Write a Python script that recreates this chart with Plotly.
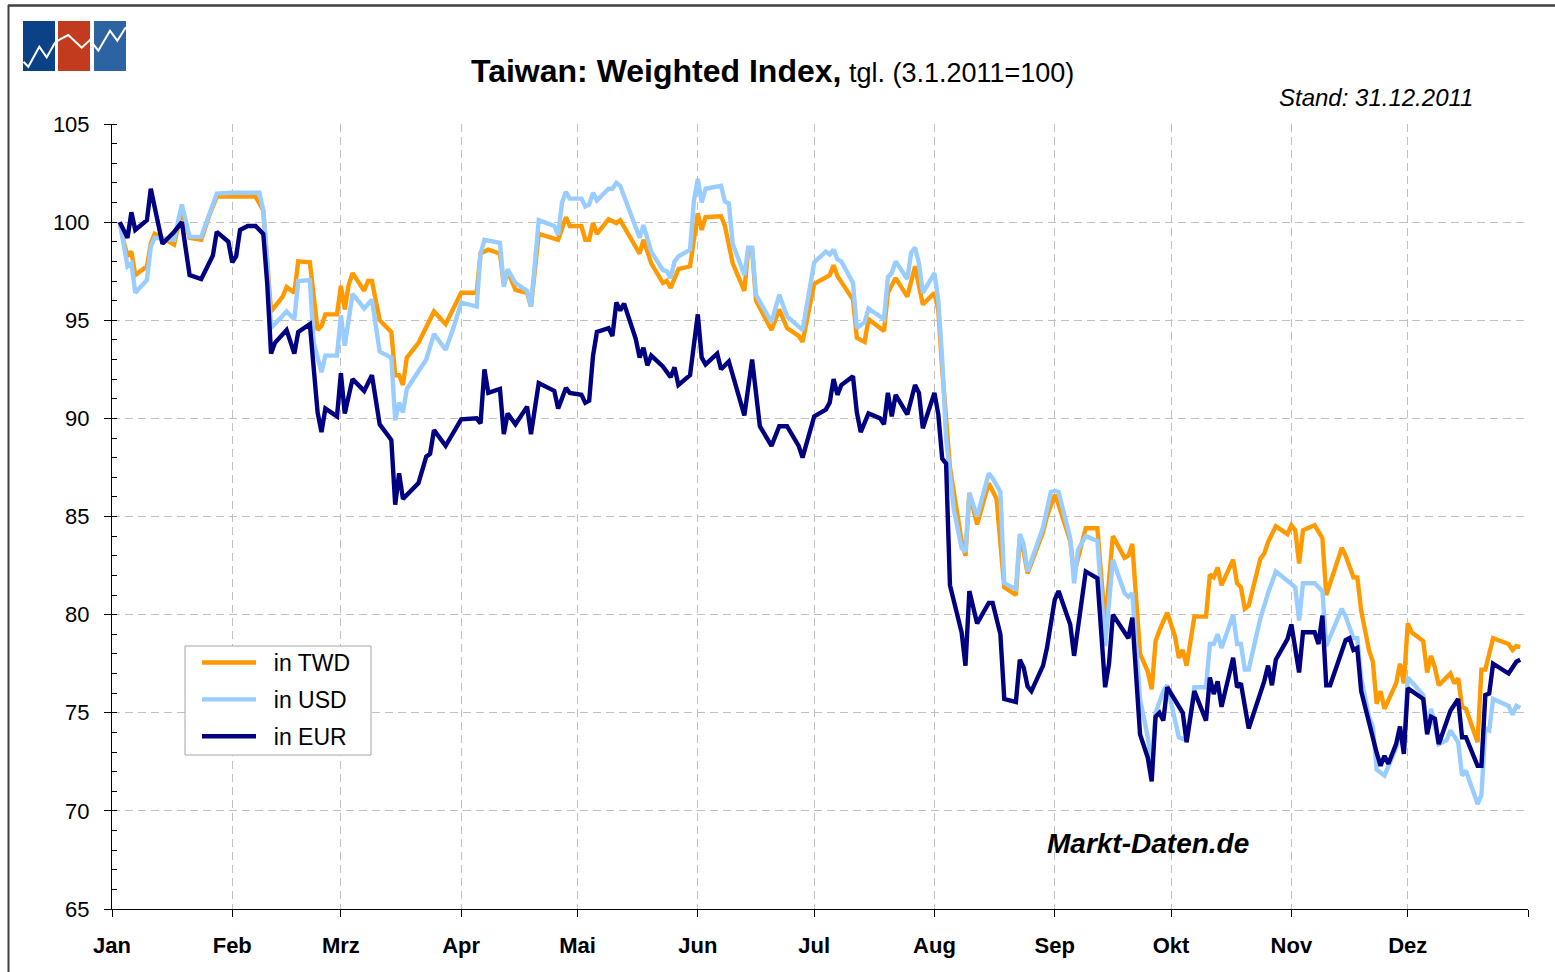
import plotly.graph_objects as go

# ---------------- data ----------------
twd_dates = [
    "2011-01-03","2011-01-04","2011-01-05","2011-01-06","2011-01-07","2011-01-10","2011-01-11","2011-01-12","2011-01-14","2011-01-17",
    "2011-01-19","2011-01-21","2011-01-24","2011-01-26","2011-01-28","2011-02-07","2011-02-09","2011-02-10","2011-02-11","2011-02-14",
    "2011-02-15","2011-02-17","2011-02-18","2011-02-21","2011-02-23","2011-02-24","2011-02-25","2011-02-28","2011-03-01","2011-03-02",
    "2011-03-03","2011-03-04","2011-03-07","2011-03-08","2011-03-09","2011-03-11","2011-03-14","2011-03-15","2011-03-16","2011-03-17",
    "2011-03-18","2011-03-21","2011-03-25","2011-03-28","2011-04-01","2011-04-05","2011-04-06","2011-04-08","2011-04-11","2011-04-12",
    "2011-04-13","2011-04-15","2011-04-18","2011-04-19","2011-04-21","2011-04-26","2011-04-28","2011-04-29","2011-05-02","2011-05-03",
    "2011-05-04","2011-05-05","2011-05-06","2011-05-09","2011-05-11","2011-05-12","2011-05-17","2011-05-18","2011-05-20","2011-05-23",
    "2011-05-24","2011-05-25","2011-05-27","2011-05-30","2011-06-01","2011-06-02","2011-06-03","2011-06-07","2011-06-08","2011-06-10",
    "2011-06-13","2011-06-14","2011-06-15","2011-06-16","2011-06-20","2011-06-22","2011-06-24","2011-06-27","2011-06-28","2011-07-01",
    "2011-07-05","2011-07-06","2011-07-07","2011-07-11","2011-07-12","2011-07-14","2011-07-15","2011-07-19","2011-07-20","2011-07-22",
    "2011-07-25","2011-07-27","2011-07-29","2011-08-01","2011-08-02","2011-08-03","2011-08-05","2011-08-08","2011-08-09","2011-08-10",
    "2011-08-12","2011-08-15","2011-08-17","2011-08-19","2011-08-22","2011-08-23","2011-08-24","2011-08-25","2011-08-29","2011-08-30",
    "2011-09-01","2011-09-02","2011-09-05","2011-09-06","2011-09-08","2011-09-09","2011-09-12","2011-09-14","2011-09-16","2011-09-19",
    "2011-09-20","2011-09-21","2011-09-23","2011-09-25","2011-09-26","2011-09-27","2011-09-28","2011-09-30","2011-10-02","2011-10-03",
    "2011-10-04","2011-10-05","2011-10-07","2011-10-10","2011-10-11","2011-10-12","2011-10-13","2011-10-14","2011-10-17","2011-10-18",
    "2011-10-19","2011-10-20","2011-10-21","2011-10-24","2011-10-25","2011-10-26","2011-10-28","2011-10-31","2011-11-01","2011-11-02",
    "2011-11-03","2011-11-04","2011-11-07","2011-11-09","2011-11-10","2011-11-14","2011-11-15","2011-11-17","2011-11-18","2011-11-19",
    "2011-11-21","2011-11-22","2011-11-23","2011-11-24","2011-11-25","2011-11-28","2011-11-29","2011-11-30","2011-12-01","2011-12-02",
    "2011-12-05","2011-12-06","2011-12-07","2011-12-08","2011-12-09","2011-12-12","2011-12-13","2011-12-14","2011-12-15","2011-12-16",
    "2011-12-19","2011-12-20","2011-12-21","2011-12-23","2011-12-27","2011-12-28","2011-12-29","2011-12-30",
]
twd_values = [
    100.0, 99.0, 98.3, 98.5, 97.3, 97.75, 98.9, 99.4, 99.2, 98.85,
    100.6, 99.2, 99.1, 100.3, 101.3, 101.3, 100.6, 98.25, 95.45, 96.2,
    96.7, 96.4, 98.0, 97.95, 94.5, 94.7, 95.3, 95.3, 96.75, 95.55,
    96.8, 97.4, 96.5, 97.0, 97.0, 95.0, 94.4, 92.2, 92.2, 91.7,
    93.1, 93.85, 95.45, 94.8, 96.4, 96.4, 98.4, 98.6, 98.4, 96.8,
    97.5, 96.55, 96.4, 95.7, 99.4, 99.1, 100.25, 99.8, 99.8, 99.1,
    99.1, 99.95, 99.4, 100.15, 99.95, 100.1, 98.4, 99.1, 97.9, 96.9,
    97.0, 96.65, 97.6, 97.75, 100.45, 99.6, 100.25, 100.3, 99.8, 97.9,
    96.5, 98.6, 98.6, 96.0, 94.5, 95.55, 94.6, 94.2, 93.9, 96.85,
    97.3, 97.8, 97.25, 96.05, 94.1, 93.9, 95.05, 94.45, 96.4, 97.15,
    96.2, 97.75, 95.8, 96.4, 95.5, 92.5, 87.5, 83.75, 83.0, 86.2,
    84.6, 86.7, 85.9, 81.4, 81.0, 83.9, 83.2, 82.1, 84.2, 85.0,
    86.1, 85.6, 83.75, 82.1, 83.75, 84.4, 84.4, 79.5, 84.0, 82.9,
    83.0, 83.6, 78.0, 77.1, 76.2, 78.65, 79.2, 80.1, 78.9, 77.8,
    78.2, 77.4, 79.9, 79.9, 82.05, 81.9, 82.4, 81.5, 82.8, 81.6,
    81.4, 80.3, 80.45, 82.85, 83.1, 83.7, 84.5, 84.1, 84.55, 84.3,
    82.6, 84.3, 84.55, 83.9, 81.0, 83.4, 83.0, 81.9, 81.9, 80.2,
    78.2, 77.6, 75.45, 76.1, 75.2, 76.5, 77.5, 76.5, 79.55, 79.1,
    78.65, 77.05, 77.9, 77.3, 76.4, 77.0, 76.5, 76.75, 75.3, 75.2,
    73.5, 77.2, 77.2, 78.8, 78.5, 78.2, 78.4, 78.35,
]

usd_dates = [
    "2011-01-03","2011-01-05","2011-01-06","2011-01-07","2011-01-10","2011-01-11","2011-01-12","2011-01-17","2011-01-19","2011-01-21",
    "2011-01-24","2011-01-28","2011-02-01","2011-02-08","2011-02-09","2011-02-10","2011-02-11","2011-02-15","2011-02-17","2011-02-18",
    "2011-02-21","2011-02-22","2011-02-24","2011-02-25","2011-02-28","2011-03-01","2011-03-02","2011-03-04","2011-03-07","2011-03-09",
    "2011-03-11","2011-03-14","2011-03-15","2011-03-16","2011-03-17","2011-03-18","2011-03-23","2011-03-25","2011-03-28","2011-03-30",
    "2011-04-01","2011-04-05","2011-04-06","2011-04-07","2011-04-11","2011-04-12","2011-04-13","2011-04-15","2011-04-18","2011-04-19",
    "2011-04-21","2011-04-25","2011-04-26","2011-04-27","2011-04-28","2011-04-29","2011-05-02","2011-05-03","2011-05-04","2011-05-05",
    "2011-05-06","2011-05-09","2011-05-10","2011-05-11","2011-05-12","2011-05-17","2011-05-18","2011-05-20","2011-05-23","2011-05-24",
    "2011-05-25","2011-05-26","2011-05-27","2011-05-30","2011-05-31","2011-06-01","2011-06-02","2011-06-03","2011-06-07","2011-06-08",
    "2011-06-09","2011-06-10","2011-06-13","2011-06-14","2011-06-15","2011-06-16","2011-06-20","2011-06-22","2011-06-24","2011-06-28",
    "2011-07-01","2011-07-04","2011-07-05","2011-07-06","2011-07-07","2011-07-08","2011-07-11","2011-07-12","2011-07-14","2011-07-15",
    "2011-07-19","2011-07-20","2011-07-21","2011-07-22","2011-07-25","2011-07-26","2011-07-27","2011-07-28","2011-07-29","2011-08-01",
    "2011-08-02","2011-08-03","2011-08-04","2011-08-05","2011-08-06","2011-08-08","2011-08-09","2011-08-10","2011-08-12","2011-08-15",
    "2011-08-16","2011-08-18","2011-08-19","2011-08-22","2011-08-23","2011-08-24","2011-08-25","2011-08-29","2011-08-31","2011-09-01",
    "2011-09-02","2011-09-05","2011-09-06","2011-09-07","2011-09-09","2011-09-12","2011-09-14","2011-09-16","2011-09-19","2011-09-20",
    "2011-09-21","2011-09-23","2011-09-25","2011-09-26","2011-09-27","2011-09-29","2011-09-30","2011-10-03","2011-10-05","2011-10-07",
    "2011-10-10","2011-10-11","2011-10-12","2011-10-13","2011-10-14","2011-10-17","2011-10-18","2011-10-19","2011-10-20","2011-10-21",
    "2011-10-24","2011-10-26","2011-10-28","2011-11-02","2011-11-03","2011-11-04","2011-11-07","2011-11-09","2011-11-10","2011-11-14",
    "2011-11-15","2011-11-17","2011-11-18","2011-11-19","2011-11-21","2011-11-22","2011-11-23","2011-11-25","2011-11-28","2011-11-29",
    "2011-11-30","2011-12-01","2011-12-05","2011-12-06","2011-12-07","2011-12-09","2011-12-11","2011-12-12","2011-12-14","2011-12-15",
    "2011-12-16","2011-12-19","2011-12-20","2011-12-21","2011-12-22","2011-12-23","2011-12-27","2011-12-28","2011-12-29","2011-12-30",
]
usd_values = [
    100.0, 97.75, 97.9, 96.4, 97.05, 98.75, 99.2, 99.1, 100.9, 99.25,
    99.25, 101.45, 101.5, 101.5, 100.6, 98.0, 94.6, 95.45, 95.05, 97.0,
    97.05, 93.85, 92.35, 93.2, 93.2, 95.25, 93.7, 96.35, 95.6, 96.05,
    93.4, 93.1, 89.9, 90.8, 90.3, 91.5, 93.0, 94.3, 93.5, 94.6,
    95.9, 95.7, 98.4, 99.1, 98.95, 96.7, 97.6, 96.9, 96.5, 95.7,
    100.1, 99.8, 99.35, 101.0, 101.55, 101.2, 101.2, 100.8, 100.9, 101.5,
    101.1, 101.7, 101.7, 102.0, 101.85, 99.2, 99.85, 98.5, 97.55, 97.5,
    97.15, 98.0, 98.25, 98.6, 101.1, 102.2, 101.0, 101.7, 101.85, 101.05,
    100.95, 98.9, 97.3, 98.7, 98.7, 96.3, 94.9, 96.3, 95.2, 94.5,
    97.95, 98.5, 98.35, 98.6, 98.1, 98.0, 96.9, 94.6, 94.9, 95.6,
    95.05, 97.2, 97.4, 98.0, 97.1, 98.45, 98.7, 97.9, 96.4, 97.4,
    96.0, 93.0, 89.0, 87.15, 85.35, 83.4, 83.2, 86.2, 85.0, 87.2,
    86.95, 86.25, 81.6, 81.3, 84.1, 83.6, 82.2, 84.45, 86.25, 86.3,
    86.25, 83.9, 81.6, 83.3, 84.0, 83.75, 78.4, 82.8, 81.1, 80.9,
    81.1, 75.7, 73.75, 72.3, 75.0, 76.1, 76.4, 73.75, 73.6, 76.3,
    76.3, 78.5, 78.5, 79.0, 78.3, 80.0, 78.5, 78.5, 77.2, 77.2,
    79.8, 81.1, 82.2, 81.4, 79.7, 81.6, 81.6, 81.2, 78.4, 80.3,
    79.9, 78.8, 78.8, 76.8, 74.8, 74.3, 72.1, 71.8, 73.2, 74.1,
    73.1, 76.8, 75.9, 74.1, 75.2, 73.4, 73.6, 74.1, 73.5, 71.8,
    72.05, 70.35, 70.8, 74.2, 74.1, 75.7, 75.35, 74.9, 75.35, 75.25,
]

eur_dates = [
    "2011-01-03","2011-01-05","2011-01-06","2011-01-07","2011-01-10","2011-01-11","2011-01-14","2011-01-17","2011-01-19","2011-01-21",
    "2011-01-24","2011-01-26","2011-01-27","2011-01-28","2011-01-31","2011-02-01","2011-02-02","2011-02-03","2011-02-05","2011-02-07",
    "2011-02-09","2011-02-10","2011-02-11","2011-02-12","2011-02-15","2011-02-17","2011-02-18","2011-02-21","2011-02-22","2011-02-23",
    "2011-02-24","2011-02-25","2011-02-28","2011-03-01","2011-03-02","2011-03-04","2011-03-07","2011-03-09","2011-03-11","2011-03-14",
    "2011-03-15","2011-03-16","2011-03-17","2011-03-21","2011-03-23","2011-03-24","2011-03-25","2011-03-28","2011-04-01","2011-04-05",
    "2011-04-06","2011-04-07","2011-04-08","2011-04-11","2011-04-12","2011-04-13","2011-04-15","2011-04-18","2011-04-19","2011-04-21",
    "2011-04-25","2011-04-26","2011-04-28","2011-04-29","2011-05-02","2011-05-03","2011-05-04","2011-05-05","2011-05-06","2011-05-09",
    "2011-05-10","2011-05-11","2011-05-12","2011-05-13","2011-05-16","2011-05-17","2011-05-18","2011-05-19","2011-05-20","2011-05-23",
    "2011-05-25","2011-05-26","2011-05-27","2011-05-30","2011-06-01","2011-06-02","2011-06-03","2011-06-06","2011-06-07","2011-06-09",
    "2011-06-13","2011-06-15","2011-06-17","2011-06-20","2011-06-22","2011-06-24","2011-06-27","2011-06-28","2011-07-01","2011-07-04",
    "2011-07-05","2011-07-06","2011-07-07","2011-07-08","2011-07-11","2011-07-12","2011-07-13","2011-07-15","2011-07-18","2011-07-19",
    "2011-07-20","2011-07-21","2011-07-22","2011-07-25","2011-07-27","2011-07-28","2011-07-29","2011-08-01","2011-08-02","2011-08-03",
    "2011-08-04","2011-08-05","2011-08-08","2011-08-09","2011-08-10","2011-08-12","2011-08-15","2011-08-16","2011-08-18","2011-08-19",
    "2011-08-22","2011-08-23","2011-08-24","2011-08-25","2011-08-26","2011-08-29","2011-08-30","2011-09-01","2011-09-02","2011-09-05",
    "2011-09-06","2011-09-09","2011-09-12","2011-09-13","2011-09-14","2011-09-15","2011-09-16","2011-09-20","2011-09-21","2011-09-23",
    "2011-09-25","2011-09-26","2011-09-27","2011-09-28","2011-09-29","2011-09-30","2011-10-04","2011-10-05","2011-10-07","2011-10-10",
    "2011-10-11","2011-10-12","2011-10-13","2011-10-14","2011-10-17","2011-10-18","2011-10-19","2011-10-21","2011-10-25","2011-10-26",
    "2011-10-27","2011-10-28","2011-10-31","2011-11-01","2011-11-03","2011-11-04","2011-11-07","2011-11-08","2011-11-09","2011-11-10",
    "2011-11-11","2011-11-15","2011-11-16","2011-11-17","2011-11-18","2011-11-19","2011-11-22","2011-11-23","2011-11-24","2011-11-25",
    "2011-11-26","2011-11-28","2011-11-29","2011-11-30","2011-12-01","2011-12-05","2011-12-06","2011-12-07","2011-12-08","2011-12-09",
    "2011-12-12","2011-12-14","2011-12-15","2011-12-16","2011-12-19","2011-12-20","2011-12-21","2011-12-22","2011-12-23","2011-12-27",
    "2011-12-29","2011-12-30",
]
eur_values = [
    100.0, 99.2, 100.5, 99.6, 100.1, 101.7, 98.9, 99.5, 100.0, 97.3,
    97.1, 97.9, 98.3, 99.5, 99.0, 97.95, 98.25, 99.6, 99.8, 99.8,
    99.4, 96.9, 93.3, 93.85, 94.5, 93.3, 94.4, 94.8, 92.5, 90.3,
    89.3, 90.5, 90.1, 92.3, 90.25, 92.0, 91.4, 92.2, 89.7, 88.9,
    85.6, 87.2, 85.9, 86.7, 88.05, 88.2, 89.4, 88.6, 89.95, 90.0,
    89.75, 92.5, 91.3, 91.5, 89.2, 90.25, 89.7, 90.6, 89.2, 91.8,
    91.4, 90.5, 91.55, 91.3, 91.2, 90.8, 90.9, 93.2, 94.4, 94.6,
    94.2, 95.9, 95.5, 95.85, 94.05, 93.1, 93.6, 92.7, 93.2, 92.65,
    92.1, 92.6, 91.7, 92.2, 95.3, 93.1, 92.75, 93.3, 92.5, 92.9,
    90.15, 93.0, 89.6, 88.6, 89.6, 89.6, 88.6, 88.0, 90.1, 90.45,
    90.8, 92.0, 91.2, 91.7, 92.15, 90.3, 89.3, 90.25, 90.0, 89.7,
    91.3, 90.1, 91.2, 90.2, 91.7, 91.3, 89.5, 91.3, 90.2, 87.95,
    87.7, 81.5, 79.1, 77.4, 81.2, 79.55, 80.6, 80.6, 79.0, 75.7,
    75.55, 77.7, 77.3, 76.35, 76.1, 77.4, 78.3, 80.75, 81.2, 79.5,
    77.9, 82.2, 81.85, 79.1, 76.3, 77.5, 80.0, 78.8, 79.85, 73.9,
    72.7, 71.5, 74.8, 75.0, 74.6, 76.3, 75.0, 73.5, 76.1, 74.6,
    76.8, 75.95, 76.6, 75.3, 77.8, 76.3, 76.5, 74.2, 76.6, 77.4,
    76.4, 77.7, 78.75, 79.5, 77.05, 79.1, 79.1, 78.5, 79.95, 76.4,
    76.4, 78.7, 78.8, 78.2, 78.3, 76.1, 73.6, 72.95, 72.3, 72.8,
    72.4, 73.4, 74.3, 72.9, 76.25, 75.7, 73.9, 74.8, 74.7, 73.4,
    75.1, 75.7, 73.75, 73.75, 72.3, 72.3, 75.9, 75.98, 77.5, 77.0,
    77.6, 77.7,
]

series_names = ["in TWD", "in USD", "in EUR"]
series_colors = ["#FF9900", "#99CCFF", "#000080"]

month_ticks = ["2011-01-01","2011-02-01","2011-03-01","2011-04-01","2011-05-01","2011-06-01",
               "2011-07-01","2011-08-01","2011-09-01","2011-10-01","2011-11-01","2011-12-01","2012-01-01"]
month_labels = ["Jan","Feb","Mrz","Apr","Mai","Jun","Jul","Aug","Sep","Okt","Nov","Dez",""]

assert len(twd_dates) == len(twd_values)
assert len(usd_dates) == len(usd_values)
assert len(eur_dates) == len(eur_values)

# ---------------- layout geometry ----------------
W, H = 1555, 972
ML, MR, MT, MB = 112, 27, 124, 63
PW, PH = W - ML - MR, H - MT - MB


def px(x):
    return (x - ML) / PW


def py(y):
    return (H - MB - y) / PH


FONT = "Liberation Sans, Arial, sans-serif"
NB = "\u00a0"

fig = go.Figure()
for name, color, xs, ys in zip(series_names, series_colors,
                               [twd_dates, usd_dates, eur_dates],
                               [twd_values, usd_values, eur_values]):
    fig.add_trace(go.Scatter(x=xs, y=ys, mode="lines", name=NB * 2 + name,
                             legendgroup=name,
                             line=dict(color=color, width=4.4, shape="linear")))

shapes = []
# outer frame (top + left)
shapes.append(dict(type="line", xref="paper", yref="paper", x0=px(8), x1=px(W), y0=py(5.5), y1=py(5.5),
                   line=dict(color="#404040", width=2.5)))
shapes.append(dict(type="line", xref="paper", yref="paper", x0=px(8.5), x1=px(8.5), y0=py(5), y1=py(H),
                   line=dict(color="#404040", width=2)))
# logo squares
for x0, x1, col in [(23, 55, "#0B4287"), (58, 90, "#C23B1E"), (94, 126, "#2E63A2")]:
    shapes.append(dict(type="rect", xref="paper", yref="paper", x0=px(x0), x1=px(x1), y0=py(71), y1=py(21),
                       fillcolor=col, line=dict(width=0), layer="above"))
zig = [(23.5, 61.7), (28.3, 66.7), (39.3, 46.7), (46.7, 57.3), (55, 42.7), (60, 39.3), (68.3, 35),
       (81.7, 47.7), (90, 40), (98.3, 50.7), (110, 30.7), (117.3, 40.7), (125.8, 27.3)]
path = "M " + " L ".join(f"{px(a):.5f},{py(b):.5f}" for a, b in zig)
shapes.append(dict(type="path", xref="paper", yref="paper", path=path,
                   line=dict(color="white", width=2), layer="above"))
# legend frame
shapes.append(dict(type="rect", xref="paper", yref="paper", x0=px(185), x1=px(371), y0=py(755), y1=py(646),
                   fillcolor="white", line=dict(color="#A6A6A6", width=1), layer="above"))

annotations = [
    dict(xref="paper", yref="paper", x=px(772), y=py(71), xanchor="center", yanchor="middle",
         text="<b>Taiwan: Weighted Index,</b><span style='font-size:27px'> tgl. (3.1.2011=100)</span>",
         showarrow=False, font=dict(family=FONT, size=32, color="black")),
    dict(xref="paper", yref="paper", x=px(1475), y=py(97), xanchor="right", yanchor="middle",
         text="<i>Stand: 31.12.2011</i>", showarrow=False,
         font=dict(family=FONT, size=24, color="black")),
    dict(xref="paper", yref="paper", x=px(1148), y=py(843), xanchor="center", yanchor="middle",
         text="<b><i>Markt-Daten.de</i></b>", showarrow=False,
         font=dict(family=FONT, size=28, color="black")),
]

fig.update_layout(
    width=W, height=H,
    margin=dict(l=ML, r=MR, t=MT, b=MB, pad=0),
    paper_bgcolor="white", plot_bgcolor="white",
    font=dict(family=FONT, color="black"),
    shapes=shapes, annotations=annotations,
    showlegend=True,
    legend=dict(x=px(197), y=py(641), xanchor="left", yanchor="top",
                bgcolor="rgba(0,0,0,0)", borderwidth=0,
                font=dict(family=FONT, size=23, color="black"),
                tracegroupgap=4, itemwidth=54,
                traceorder="grouped"),
    xaxis=dict(type="date", range=["2011-01-01", "2012-01-01"],
               tickmode="array", tickvals=month_ticks, ticktext=month_labels,
               ticks="outside", ticklen=7, tickcolor="black", tickwidth=1,
               showline=True, linecolor="black", linewidth=1,
               showgrid=True, gridcolor="#C0C0C0", gridwidth=1, griddash="8px,5px",
               zeroline=False, ticklabelstandoff=10,
               tickfont=dict(family=FONT, size=22, color="black", weight="bold")),
    yaxis=dict(range=[65, 105], tickmode="linear", tick0=65, dtick=5,
               ticks="outside", ticklen=7, tickcolor="black", tickwidth=1,
               showline=True, linecolor="black", linewidth=1,
               showgrid=True, gridcolor="#C0C0C0", gridwidth=1, griddash="8px,5px",
               zeroline=False, ticklabelstandoff=10,
               minor=dict(dtick=1, ticks="inside", ticklen=5, tickcolor="black", showgrid=False),
               tickfont=dict(family=FONT, size=22, color="black")),
)

fig.write_html("out.html", config={"displayModeBar": False},
               post_script="document.body.style.margin='0';document.body.style.overflow='hidden';")
